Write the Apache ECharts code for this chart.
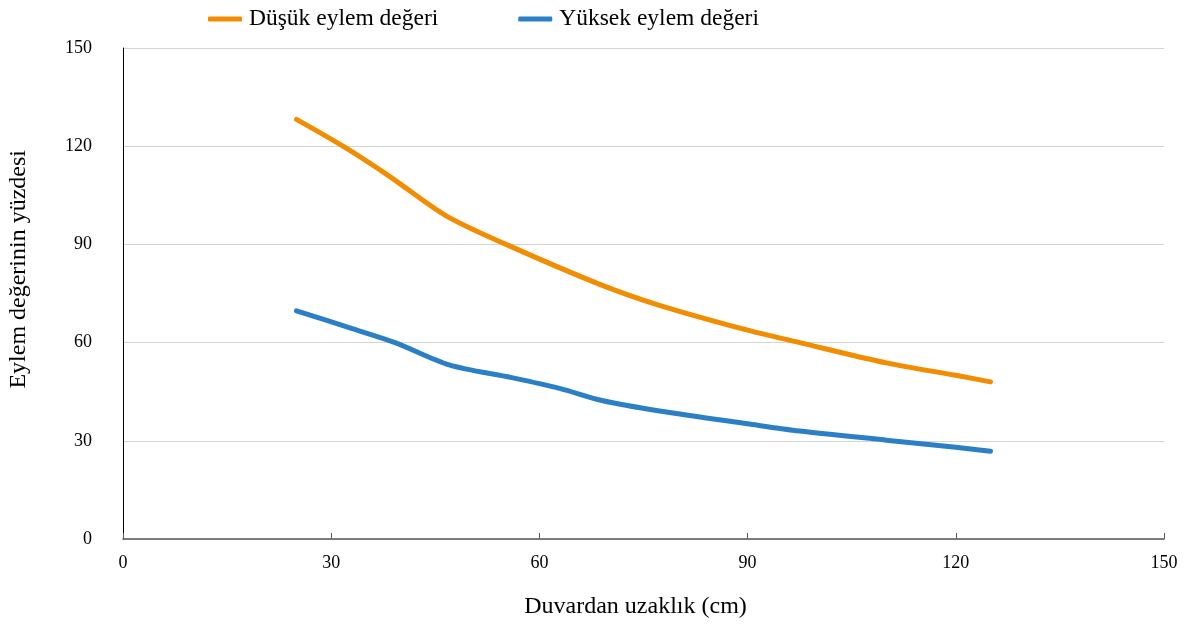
<!DOCTYPE html>
<html>
<head>
<meta charset="utf-8">
<script src="https://cdn.jsdelivr.net/npm/echarts@6/dist/echarts.min.js"></script>
<style>
  html, body { margin: 0; padding: 0; background: #fff; }
  #chart { width: 1187px; height: 625px; }
</style>
</head>
<body>
<div id="chart"></div>
<script>
// Distance from wall (cm) and the matching percentage of the action value
const distLow = [25, 31.7, 38.4, 46.5, 55.2, 68.7, 77.3, 90, 97.5, 110, 120, 125];
const valLow  = [128.2, 120, 110.8, 98.8, 90, 77.8, 71.4, 63.8, 60, 53.8, 50, 48];

const distHigh = [25, 32.7, 39.2, 47, 56, 62.9, 69, 77.3, 90, 97.5, 110, 120, 125];
const valHigh  = [69.7, 64.5, 60, 53.2, 49.3, 46, 42.3, 39.1, 35.2, 33, 30.2, 28, 26.8];

const seriesNames = ['Düşük eylem değeri', 'Yüksek eylem değeri'];
const xTicks = [0, 30, 60, 90, 120, 150];
const yTicks = [0, 30, 60, 90, 120, 150];

const FONT = '"Liberation Serif", "Times New Roman", serif';

const pairs = (xs, ys) => xs.map((x, i) => [x, ys[i]]);

const chart = echarts.init(document.getElementById('chart'), null, { renderer: 'canvas' });

chart.setOption({
  backgroundColor: '#ffffff',
  animation: false,
  textStyle: { fontFamily: FONT, color: '#000' },
  legend: {
    left: 203,
    top: 2,
    itemWidth: 34,
    itemHeight: 5,
    itemGap: 80,
    icon: 'roundRect',
    textStyle: { fontFamily: FONT, fontSize: 23.5, color: '#000', padding: [0, 0, 0, 2] },
    data: seriesNames
  },
  grid: { left: 123, right: 23, top: 48, bottom: 86, containLabel: false, outerBoundsMode: 'none' },
  xAxis: {
    type: 'value',
    min: xTicks[0],
    max: xTicks[xTicks.length - 1],
    interval: 30,
    name: 'Duvardan uzaklık (cm)',
    nameLocation: 'middle',
    nameGap: 56,
    nameTextStyle: { fontFamily: FONT, fontSize: 24, color: '#000', padding: [0, 16, 0, 0] },
    axisLine: { show: true, onZero: false, lineStyle: { color: '#595959', width: 1.5 } },
    axisTick: { show: true, inside: true, length: 6, lineStyle: { color: '#595959', width: 1 } },
    axisLabel: { fontFamily: FONT, fontSize: 18, color: '#000', margin: 15 },
    splitLine: { show: false }
  },
  yAxis: {
    type: 'value',
    min: yTicks[0],
    max: yTicks[yTicks.length - 1],
    interval: 30,
    axisLine: { show: true, lineStyle: { color: '#000', width: 1 } },
    axisTick: { show: false },
    axisLabel: { fontFamily: FONT, fontSize: 18, color: '#000', margin: 31 },
    splitLine: { show: true, lineStyle: { color: '#d4d4d4', width: 1.2 } }
  },
  graphic: [{
    type: 'text',
    left: 7,
    top: 150,
    rotation: Math.PI / 2,
    style: {
      text: 'Eylem değerinin yüzdesi',
      font: '24px ' + FONT,
      fill: '#000'
    }
  }],
  series: [
    {
      name: seriesNames[0],
      type: 'line',
      data: pairs(distLow, valLow),
      smooth: 0.3,
      showSymbol: false,
      symbol: 'none',
      color: '#F28C00',
      lineStyle: { color: '#F28C00', width: 5, cap: 'round', join: 'round' }
    },
    {
      name: seriesNames[1],
      type: 'line',
      data: pairs(distHigh, valHigh),
      smooth: 0.3,
      showSymbol: false,
      symbol: 'none',
      color: '#2B80C5',
      lineStyle: { color: '#2B80C5', width: 5, cap: 'round', join: 'round' }
    }
  ]
});
</script>
</body>
</html>
